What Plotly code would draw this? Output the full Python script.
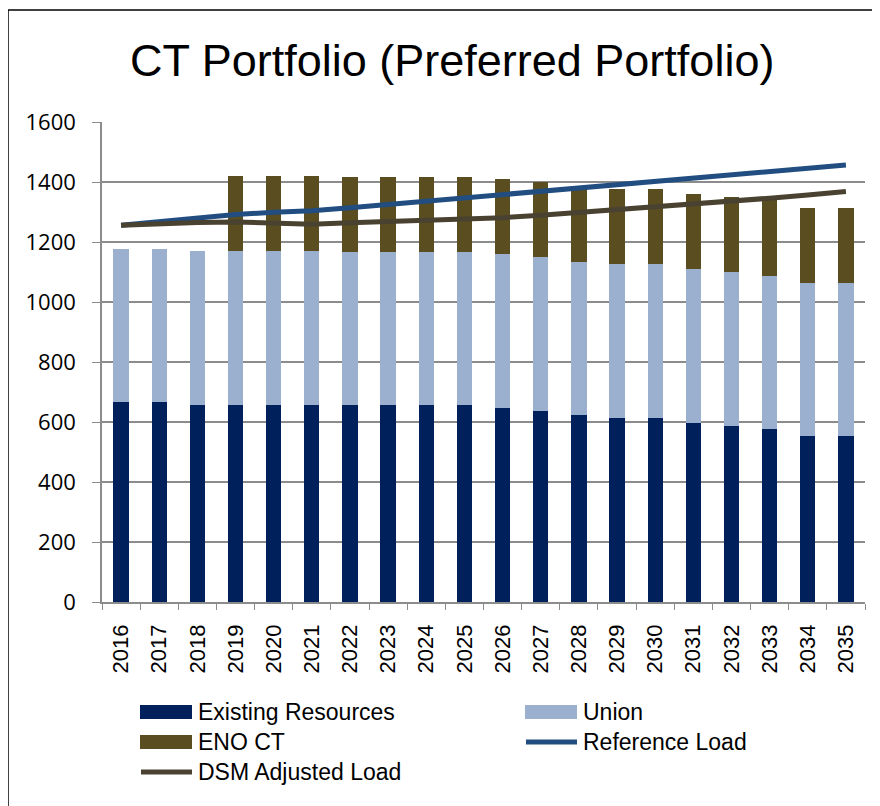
import plotly.graph_objects as go

years = [str(y) for y in range(2016, 2036)]

existing = [667, 667, 657, 657, 657, 657, 657, 657, 657, 657,
            648, 636, 624, 613, 613, 597, 588, 576, 553, 553]
union = [511, 511, 513, 513, 513, 513, 511, 511, 511, 511,
         512, 513, 509, 513, 513, 513, 512, 511, 510, 510]
eno_ct = [0, 0, 0, 249, 249, 249, 249, 249, 249, 249,
          251, 250, 254, 250, 250, 250, 251, 253, 251, 251]
reference_load = [1256, 1268, 1280, 1292, 1299, 1304, 1314, 1325, 1336, 1346,
                  1357, 1368, 1378, 1389, 1401, 1412, 1423, 1435, 1446, 1457]
dsm_load = [1256, 1262, 1265, 1267, 1264, 1259, 1264, 1268, 1272, 1276,
            1281, 1289, 1298, 1310, 1320, 1329, 1338, 1346, 1357, 1368]

colors = {
    "Existing Resources": "#00205b",
    "Union": "#9bafce",
    "ENO CT": "#5a4e21",
    "Reference Load": "#214d80",
    "DSM Adjusted Load": "#4a4230",
}

# the page body has an 8px margin, so page pixels are shifted by OFF
OFF = 8
W, H = 880, 806
# plot area in page pixels
L, R, T, B = 102, 865, 122, 602


def px(x):
    return (x - L) / (R - L)


def py(y):
    return (B - y) / (B - T)


fig = go.Figure()
fig.add_trace(go.Bar(x=years, y=existing, name="Existing Resources",
                     marker=dict(color=colors["Existing Resources"], line=dict(width=0))))
fig.add_trace(go.Bar(x=years, y=union, name="Union",
                     marker=dict(color=colors["Union"], line=dict(width=0))))
fig.add_trace(go.Bar(x=years, y=eno_ct, name="ENO CT",
                     marker=dict(color=colors["ENO CT"], line=dict(width=0))))
fig.add_trace(go.Scatter(x=years, y=reference_load, name="Reference Load", mode="lines",
                         line=dict(color=colors["Reference Load"], width=5)))
fig.add_trace(go.Scatter(x=years, y=dsm_load, name="DSM Adjusted Load", mode="lines",
                         line=dict(color=colors["DSM Adjusted Load"], width=5)))

shapes = []
annotations = []

# outer chart border (only left and top edges are visible)
shapes.append(dict(type="line", xref="paper", yref="paper",
                   x0=px(8), y0=py(10), x1=px(8), y1=py(H + 20),
                   line=dict(color="black", width=1.5)))
shapes.append(dict(type="line", xref="paper", yref="paper",
                   x0=px(8), y0=py(10), x1=px(W + 20), y1=py(10),
                   line=dict(color="black", width=1.5)))

# manual legend, two columns
legend_items = [
    ("Existing Resources", "bar", 140, 712),
    ("Union", "bar", 525, 712),
    ("ENO CT", "bar", 140, 742),
    ("Reference Load", "line", 525, 742),
    ("DSM Adjusted Load", "line", 140, 772),
]
for name, kind, x, y in legend_items:
    if kind == "bar":
        shapes.append(dict(type="rect", xref="paper", yref="paper",
                           x0=px(x), x1=px(x + 52), y0=py(y - 7), y1=py(y + 7),
                           fillcolor=colors[name], line=dict(width=0)))
    else:
        shapes.append(dict(type="line", xref="paper", yref="paper",
                           x0=px(x + 1), x1=px(x + 52), y0=py(y), y1=py(y),
                           line=dict(color=colors[name], width=5)))
    annotations.append(dict(xref="paper", yref="paper", x=px(x + 56), y=py(y),
                            text=name, showarrow=False, xanchor="left", yanchor="middle",
                            font=dict(family="Liberation Sans, Arial", size=23, color="black")))

annotations.append(dict(xref="paper", yref="paper", x=px(452), y=py(61),
                        text="CT Portfolio (Preferred Portfolio)", showarrow=False,
                        xanchor="center", yanchor="middle",
                        font=dict(family="Liberation Sans, Arial", size=45, color="black")))

fig.update_layout(
    width=W, height=H,
    barmode="stack", bargap=0.6,
    margin=dict(l=L - OFF, r=W - (R - OFF), t=T - OFF, b=H - (B - OFF), autoexpand=False),
    plot_bgcolor="white", paper_bgcolor="white",
    showlegend=False,
    shapes=shapes,
    annotations=annotations,
    xaxis=dict(type="category", tickangle=-90, showgrid=False, automargin=False,
               showline=True, linecolor="#8c8c8c", linewidth=1.5,
               ticks="outside", tickson="boundaries", ticklen=6, tickcolor="#8c8c8c",
               ticklabelstandoff=12,
               tickfont=dict(family="Liberation Sans, Arial", size=22, color="black")),
    yaxis=dict(range=[0, 1600], dtick=200, showgrid=True, gridcolor="#8c8c8c",
               gridwidth=1.5, zeroline=False, automargin=False,
               showline=True, linecolor="#8c8c8c", linewidth=1.5,
               ticks="outside", ticklen=8, tickcolor="#8c8c8c",
               ticklabelstandoff=12,
               tickfont=dict(family="Open Sans, sans-serif", size=22, color="black")),
)

fig.write_html("out.html")
